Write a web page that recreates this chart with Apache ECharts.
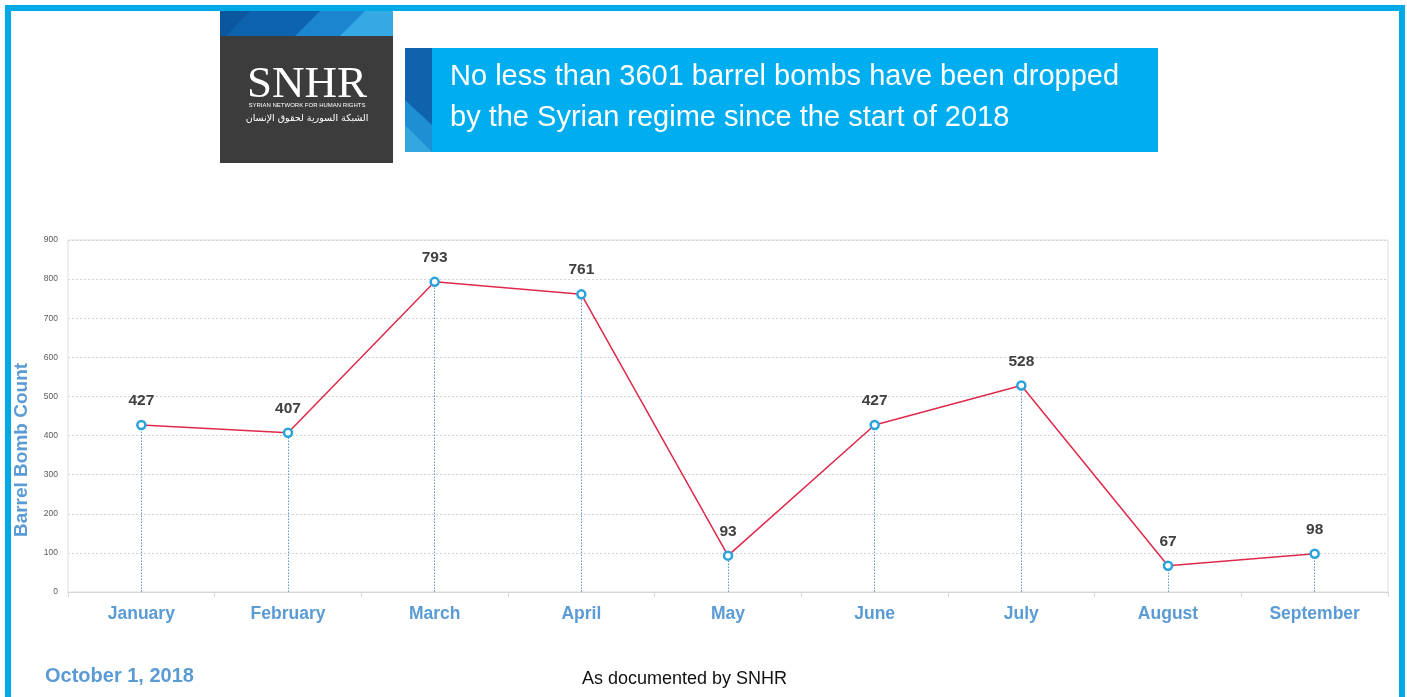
<!DOCTYPE html>
<html>
<head>
<meta charset="utf-8">
<script src="https://cdn.jsdelivr.net/npm/echarts@6/dist/echarts.min.js"></script>
<style>
html,body{margin:0;padding:0;background:#fff;}
#c{width:1407px;height:697px;}
</style>
</head>
<body>
<div id="c"></div>
<script>
var categories = ['January','February','March','April','May','June','July','August','September'];
var values = [427, 407, 793, 761, 93, 427, 528, 67, 98];
var yMax = 900;
var yInterval = 100;

var titleLines = ['No less than 3601 barrel bombs have been dropped', 'by the Syrian regime since the start of 2018'];

var chart = echarts.init(document.getElementById('c'), null, {renderer:'canvas'});

var dropLines = values.map(function(v, i){
  return [{xAxis: i, yAxis: 0}, {xAxis: i, yAxis: v}];
});

var option = {
  backgroundColor: '#ffffff',
  animation: false,
  grid: {left: 68, right: 19, top: 240, bottom: 105, show: true, borderColor: '#dedede', borderWidth: 1, containLabel: false},
  xAxis: {
    type: 'category',
    data: categories,
    boundaryGap: true,
    axisLine: {show: true, lineStyle: {color: '#d6d6d6', width: 1}},
    axisTick: {show: true, length: 5, lineStyle: {color: '#d6d6d6'}},
    axisLabel: {color: '#5b9bd5', fontSize: 17.5, fontWeight: 'bold', fontFamily: 'Liberation Sans, Arial, sans-serif', margin: 13}
  },
  yAxis: {
    type: 'value',
    min: 0, max: yMax, interval: yInterval,
    axisLine: {show: false},
    axisTick: {show: false},
    axisLabel: {color: '#595959', fontSize: 8.5, fontFamily: 'Liberation Sans, Arial, sans-serif', margin: 10},
    splitLine: {show: true, lineStyle: {color: '#d3d3d3', type: [2, 2], width: 1}}
  },
  series: [{
    type: 'line',
    data: values,
    symbol: 'circle',
    symbolSize: 8,
    showAllSymbol: true,
    lineStyle: {color: '#e0294a', width: 1.5},
    itemStyle: {color: '#ffffff', borderColor: '#2aa3dc', borderWidth: 2.5},
    label: {show: true, position: 'top', distance: 11, color: '#404040', fontSize: 15.5, fontWeight: 'bold', fontFamily: 'Liberation Sans, Arial, sans-serif'},
    markLine: {
      silent: true,
      symbol: ['none','none'],
      label: {show: false},
      lineStyle: {color: '#5b9bd5', type: [1.5, 1.5], width: 1},
      data: dropLines
    },
    z: 5
  }],
  graphic: [
    {type: 'rect', shape: {x: 8, y: 8, width: 1394, height: 720}, style: {fill: 'none', stroke: '#00a9e6', lineWidth: 6}, z: 100, silent: true},
    // logo
    {type: 'rect', shape: {x: 220, y: 11, width: 173, height: 152}, style: {fill: '#3c3c3c'}, silent: true},
    {type: 'rect', shape: {x: 220, y: 11, width: 173, height: 25}, style: {fill: '#0d63ad'}, silent: true},
    {type: 'polygon', shape: {points: [[295,36],[320,11],[393,11],[393,36]]}, style: {fill: '#1b86cf'}, silent: true},
    {type: 'polygon', shape: {points: [[340,36],[365,11],[393,11],[393,36]]}, style: {fill: '#35a9e4'}, silent: true},
    {type: 'polygon', shape: {points: [[220,11],[250,11],[226,36],[220,36]]}, style: {fill: '#0a57a0'}, silent: true},
    {type: 'text', x: 307, y: 85, style: {text: 'SNHR', fill: '#ffffff', font: '45px "Liberation Serif", "DejaVu Serif", serif', textAlign: 'center', textVerticalAlign: 'middle'}, silent: true},
    {type: 'text', x: 307, y: 105, style: {text: 'SYRIAN NETWORK FOR HUMAN RIGHTS', fill: '#ffffff', font: '6px "Liberation Sans Narrow", "Liberation Sans", sans-serif', textAlign: 'center', textVerticalAlign: 'middle'}, silent: true},
    {type: 'text', x: 307, y: 119, style: {text: 'الشبكة السورية لحقوق الإنسان', fill: '#ffffff', font: '9.5px "DejaVu Sans", "Noto Sans", sans-serif', textAlign: 'center', textVerticalAlign: 'middle'}, silent: true},
    // title box
    {type: 'rect', shape: {x: 405, y: 48, width: 753, height: 104}, style: {fill: '#00aeef'}, silent: true},
    {type: 'rect', shape: {x: 405, y: 48, width: 27, height: 104}, style: {fill: '#0f63ac'}, silent: true},
    {type: 'polygon', shape: {points: [[405,100],[432,125],[432,152],[405,152]]}, style: {fill: '#1e8fd3'}, silent: true},
    {type: 'polygon', shape: {points: [[405,125],[432,152],[405,152]]}, style: {fill: '#35a7e0'}, silent: true},
    {type: 'text', x: 450, y: 77, style: {text: titleLines[0], fill: '#ffffff', font: '29px "Liberation Sans", Arial, sans-serif', textAlign: 'left', textVerticalAlign: 'middle'}, silent: true},
    {type: 'text', x: 450, y: 118, style: {text: titleLines[1], fill: '#ffffff', font: '29px "Liberation Sans", Arial, sans-serif', textAlign: 'left', textVerticalAlign: 'middle'}, silent: true},
    // y axis name
    {type: 'text', x: 22, y: 450, rotation: Math.PI/2, style: {text: 'Barrel Bomb Count', fill: '#5b9bd5', font: 'bold 19px "Liberation Sans", Arial, sans-serif', textAlign: 'center', textVerticalAlign: 'middle'}, silent: true},
    // footer
    {type: 'text', x: 45, y: 676, style: {text: 'October 1, 2018', fill: '#5b9bd5', font: 'bold 20px "Liberation Sans", Arial, sans-serif', textAlign: 'left', textVerticalAlign: 'middle'}, silent: true},
    {type: 'text', x: 582, y: 679, style: {text: 'As documented by SNHR', fill: '#111111', font: '18px "Liberation Sans", Arial, sans-serif', textAlign: 'left', textVerticalAlign: 'middle'}, silent: true}
  ]
};
chart.setOption(option);
</script>
</body>
</html>
